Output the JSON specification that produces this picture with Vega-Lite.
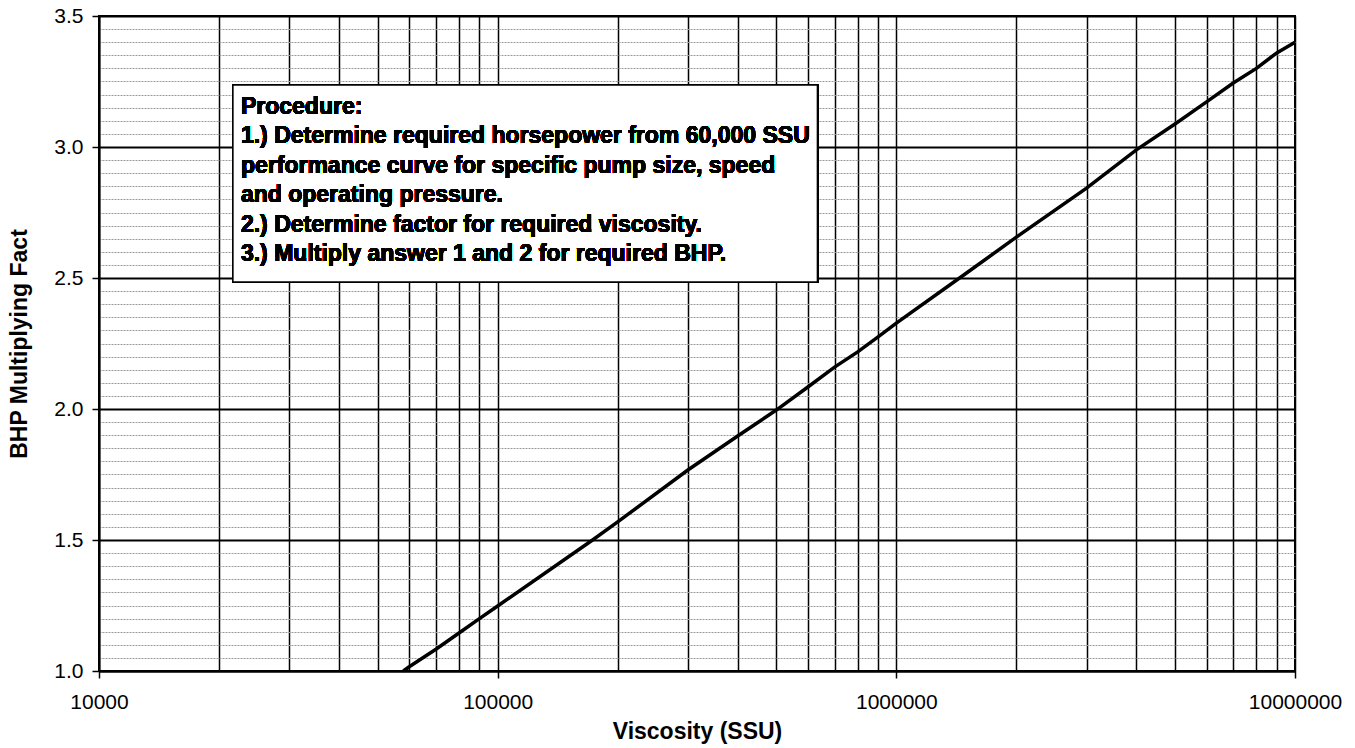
{
  "$schema": "https://vega.github.io/schema/vega-lite/v6.json",
  "width": 1196,
  "height": 655,
  "autosize": {"type": "none"},
  "padding": {"left": 99, "top": 16, "right": 60, "bottom": 77},
  "background": "white",
  "config": {"view": {"stroke": "black", "strokeWidth": 2}, "font": "Liberation Sans"},
  "data": {"values": [
    {"viscosity": 58000, "factor": 1.0},
    {"viscosity": 60000, "factor": 1.016},
    {"viscosity": 70000, "factor": 1.083},
    {"viscosity": 80000, "factor": 1.145},
    {"viscosity": 90000, "factor": 1.2},
    {"viscosity": 100000, "factor": 1.248},
    {"viscosity": 173000, "factor": 1.5},
    {"viscosity": 200000, "factor": 1.569},
    {"viscosity": 300000, "factor": 1.767},
    {"viscosity": 400000, "factor": 1.897},
    {"viscosity": 500000, "factor": 1.996},
    {"viscosity": 600000, "factor": 2.084},
    {"viscosity": 700000, "factor": 2.16},
    {"viscosity": 800000, "factor": 2.218},
    {"viscosity": 900000, "factor": 2.275},
    {"viscosity": 1000000, "factor": 2.328},
    {"viscosity": 1500000, "factor": 2.519},
    {"viscosity": 2000000, "factor": 2.656},
    {"viscosity": 3000000, "factor": 2.843},
    {"viscosity": 4000000, "factor": 2.989},
    {"viscosity": 5000000, "factor": 3.088},
    {"viscosity": 6000000, "factor": 3.172},
    {"viscosity": 7000000, "factor": 3.244},
    {"viscosity": 8000000, "factor": 3.3},
    {"viscosity": 9000000, "factor": 3.359},
    {"viscosity": 10000000, "factor": 3.4}
  ]},
  "layer": [
    {
      "mark": {"type": "line", "color": "black", "strokeWidth": 3.5},
      "encoding": {
        "x": {
          "field": "viscosity",
          "type": "quantitative",
          "scale": {"type": "log", "domain": [10000, 10000000], "nice": false},
          "axis": {
            "title": "Viscosity (SSU)",
            "values": [10000, 20000, 30000, 40000, 50000, 60000, 70000, 80000, 90000, 100000, 200000, 300000, 400000, 500000, 600000, 700000, 800000, 900000, 1000000, 2000000, 3000000, 4000000, 5000000, 6000000, 7000000, 8000000, 9000000, 10000000],
            "tickCount": 200,
            "labelExpr": "abs(log(datum.value)/LN10 - round(log(datum.value)/LN10)) < 0.001 ? format(datum.value, 'd') : ''",
            "labelOverlap": false,
            "labelFlush": false,
            "labelFontSize": 21,
            "labelColor": "black",
            "labelPadding": 13,
            "grid": true,
            "gridColor": "black",
            "gridWidth": 1.5,
            "gridOpacity": 1,
            "domainColor": "black",
            "domainWidth": 2,
            "tickColor": "black",
            "tickSize": 7,
            "tickWidth": 1.5,
            "tickOpacity": {"condition": {"test": "abs(log(datum.value)/LN10 - round(log(datum.value)/LN10)) < 0.001", "value": 1}, "value": 0},
            "titleFontSize": 23,
            "titleFontWeight": "bold",
            "titleColor": "black",
            "titlePadding": 8
          }
        },
        "y": {
          "field": "factor",
          "type": "quantitative",
          "scale": {"domain": [1, 3.5], "nice": false, "zero": false},
          "axis": {
            "title": "BHP Multiplying Fact",
            "values": [1.0, 1.05, 1.1, 1.15, 1.2, 1.25, 1.3, 1.35, 1.4, 1.45, 1.5, 1.55, 1.6, 1.65, 1.7, 1.75, 1.8, 1.85, 1.9, 1.95, 2.0, 2.05, 2.1, 2.15, 2.2, 2.25, 2.3, 2.35, 2.4, 2.45, 2.5, 2.55, 2.6, 2.65, 2.7, 2.75, 2.8, 2.85, 2.9, 2.95, 3.0, 3.05, 3.1, 3.15, 3.2, 3.25, 3.3, 3.35, 3.4, 3.45, 3.5],
            "tickCount": 200,
            "labelExpr": "abs(datum.value*2 - round(datum.value*2)) < 0.001 ? format(datum.value, '.1f') : ''",
            "labelOverlap": false,
            "labelFlush": false,
            "labelFontSize": 21,
            "labelColor": "black",
            "labelPadding": 9,
            "grid": true,
            "gridColor": {"condition": {"test": "abs(datum.value*2 - round(datum.value*2)) < 0.001", "value": "black"}, "value": "#9a9a9a"},
            "gridWidth": {"condition": {"test": "abs(datum.value*2 - round(datum.value*2)) < 0.001", "value": 1.8}, "value": 1},
            "gridDash": {"condition": {"test": "abs(datum.value*2 - round(datum.value*2)) < 0.001", "value": []}, "value": [2, 1]},
            "gridOpacity": 1,
            "domainColor": "black",
            "domainWidth": 2,
            "tickColor": "black",
            "tickSize": 7,
            "tickWidth": 1.5,
            "tickOpacity": {"condition": {"test": "abs(datum.value*2 - round(datum.value*2)) < 0.001", "value": 1}, "value": 0},
            "titleFontSize": 23,
            "titleFontWeight": "bold",
            "titleColor": "black",
            "titlePadding": 22
          }
        }
      }
    },
    {
      "mark": {"type": "rect", "fill": "white", "stroke": "black", "strokeWidth": 1.5},
      "encoding": {
        "x": {"datum": 21670},
        "x2": {"datum": 634000},
        "y": {"datum": 3.237},
        "y2": {"datum": 2.485}
      }
    },
    {
      "mark": {"type": "text", "align": "left", "baseline": "top", "fontSize": 23, "fontWeight": "bold", "lineHeight": 29.4, "font": "Liberation Sans", "color": "black"},
      "encoding": {
        "x": {"datum": 22700},
        "y": {"datum": 3.195},
        "text": {"value": ["Procedure:", "1.) Determine required horsepower from 60,000 SSU", "performance curve for specific pump size, speed", "and operating pressure.", "2.) Determine factor for required viscosity.", "3.) Multiply answer 1 and 2 for required BHP."]}
      }
    }
  ]
}
